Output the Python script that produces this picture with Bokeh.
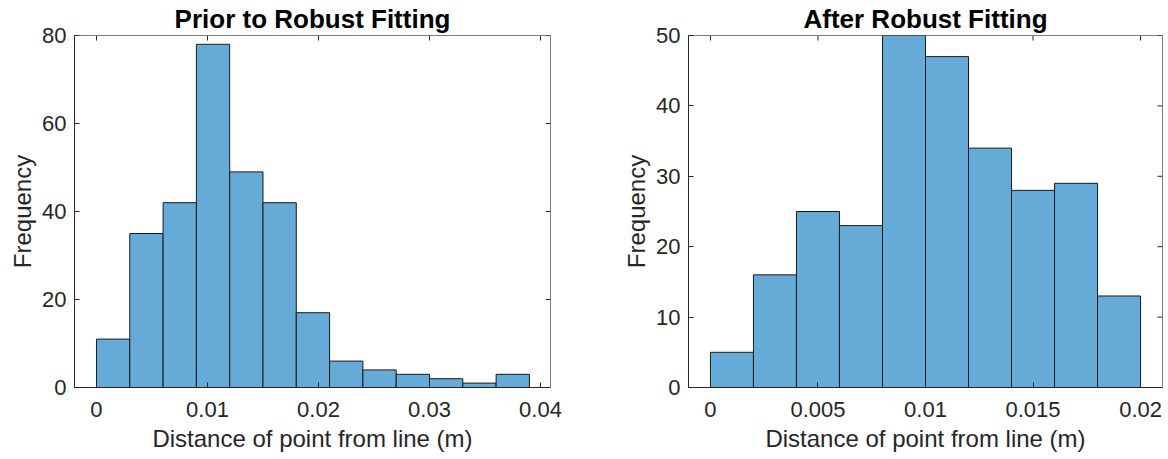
import math
from bokeh.plotting import figure
from bokeh.layouts import row
from bokeh.models import Range1d, LinearAxis, FixedTicker
from bokeh.embed import file_html
from bokeh.resources import INLINE

# ---- data ----
prior_edges = [0.000, 0.003, 0.006, 0.009, 0.012, 0.015, 0.018, 0.021,
               0.024, 0.027, 0.030, 0.033, 0.036, 0.039]
prior_counts = [11, 35, 42, 78, 49, 42, 17, 6, 4, 3, 2, 1, 3]
prior_xticks = [0, 0.01, 0.02, 0.03, 0.04]
prior_xtick_labels = ["0", "0.01", "0.02", "0.03", "0.04"]
prior_yticks = [0, 20, 40, 60, 80]

after_edges = [0.000, 0.002, 0.004, 0.006, 0.008, 0.010, 0.012, 0.014,
               0.016, 0.018, 0.020]
after_counts = [5, 16, 25, 23, 50, 47, 34, 28, 29, 13]
after_xticks = [0, 0.005, 0.01, 0.015, 0.02]
after_xtick_labels = ["0", "0.005", "0.01", "0.015", "0.02"]
after_yticks = [0, 10, 20, 30, 40, 50]

titles = ["Prior to Robust Fitting", "After Robust Fitting"]
x_label = "Distance of point from line (m)"
y_label = "Frequency"

FONT = "Liberation Sans"
TXT = "#262626"
FACE = "#66AAD7"


def make_hist(title, edges, counts, xr, yr, xticks, xlabels, yticks,
              width, bl, br):
    p = figure(width=width, height=459, output_backend="svg",
               toolbar_location=None, x_range=Range1d(*xr),
               y_range=Range1d(*yr), x_axis_location=None,
               y_axis_location=None,
               min_border_left=bl, min_border_right=br,
               min_border_top=34, min_border_bottom=72)
    p.title.text = title
    p.title.align = "center"
    p.title.text_font = FONT
    p.title.text_font_size = "26px"
    p.title.text_font_style = "bold"
    p.title.text_color = "#000000"
    p.title.standoff = 3
    p.title.offset = 0
    p.grid.visible = False
    p.outline_line_color = "#7f7f7f"
    p.background_fill_color = "white"
    p.border_fill_color = "white"

    p.quad(left=edges[:-1], right=edges[1:], top=counts, bottom=0,
           fill_color=FACE, line_color="#1a1a1a", line_width=1)

    # mirrored inward ticks on the top and right edges of the box
    p.ray(x=xticks, y=[yr[1]] * len(xticks), length=5, length_units="screen",
          angle=-math.pi / 2, line_color=TXT, line_width=1)
    p.ray(x=[xr[1]] * len(yticks), y=yticks, length=5, length_units="screen",
          angle=math.pi, line_color=TXT, line_width=1)

    labels = {float(t): l for t, l in zip(xticks, xlabels)}

    def style(ax):
        ax.major_tick_in = 5
        ax.major_tick_out = 0
        ax.minor_tick_line_color = None
        ax.axis_line_color = TXT
        ax.major_tick_line_color = TXT
        ax.major_label_text_font = FONT
        ax.major_label_text_font_size = "22px"
        ax.major_label_text_color = TXT
        ax.axis_label_text_font = FONT
        ax.axis_label_text_font_size = "24px"
        ax.axis_label_text_font_style = "normal"
        ax.axis_label_text_color = TXT

    xb = LinearAxis(ticker=FixedTicker(ticks=xticks), axis_label=x_label)
    xb.major_label_overrides = labels
    style(xb)
    xb.major_label_standoff = 14
    xb.axis_label_standoff = 5
    p.add_layout(xb, "below")

    yl = LinearAxis(ticker=FixedTicker(ticks=yticks), axis_label=y_label)
    style(yl)
    yl.major_label_standoff = 8
    yl.axis_label_standoff = 3
    p.add_layout(yl, "left")
    return p


p1 = make_hist(titles[0], prior_edges, prior_counts, (-0.00198, 0.0409),
               (0, 80), prior_xticks, prior_xtick_labels, prior_yticks,
               608, 74, 58)
p2 = make_hist(titles[1], after_edges, after_counts, (-0.00102, 0.02102),
               (0, 50), after_xticks, after_xtick_labels, after_yticks,
               560, 80, 6)

p = row(p1, p2)
open("out.html", "w").write(file_html(p, INLINE))
